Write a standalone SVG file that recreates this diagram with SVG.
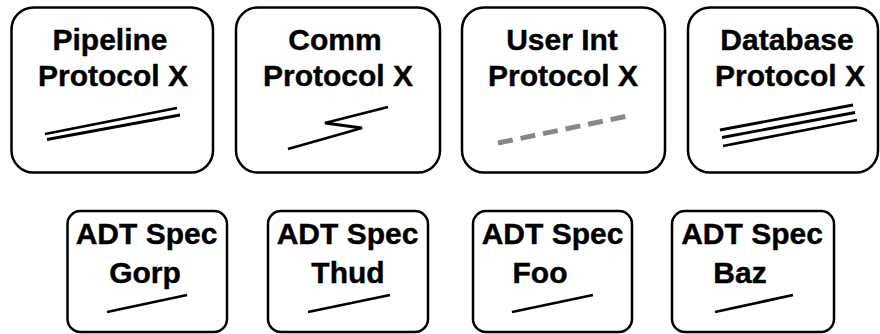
<svg xmlns="http://www.w3.org/2000/svg" width="880" height="334" viewBox="0 0 880 334">
<style>
.box{fill:#fff;stroke:#000;stroke-width:2.5}
.t{font-family:"Liberation Sans",Arial,sans-serif;font-weight:bold;font-size:30px;fill:#000;text-anchor:middle;stroke:#000;stroke-width:0.4}
.ln{stroke:#000;stroke-width:2.8;fill:none;stroke-linecap:butt}
.dash{stroke:#888;stroke-width:5;fill:none;stroke-dasharray:15 8}
</style>
<rect width="880" height="334" fill="#fff"/>
<g id="pipeline">
<rect class="box" x="11.5" y="7.5" width="201.5" height="165" rx="22"/>
<text class="t" x="110" y="50">Pipeline</text>
<text class="t" x="113" y="86">Protocol X</text>
<line class="ln" x1="45" y1="134" x2="177" y2="108"/>
<line class="ln" x1="47" y1="139.5" x2="180" y2="115"/>
</g>
<g id="comm">
<rect class="box" x="236" y="7.5" width="204" height="165" rx="22"/>
<text class="t" x="335" y="50">Comm</text>
<text class="t" x="338" y="86">Protocol X</text>
<polyline class="ln" points="288,149 362,128 325,123 388,107"/>
</g>
<g id="userint">
<rect class="box" x="462" y="7.5" width="203" height="165" rx="22"/>
<text class="t" x="562" y="50">User Int</text>
<text class="t" x="563" y="86">Protocol X</text>
<line class="dash" x1="498" y1="143" x2="628" y2="116"/>
</g>
<g id="database">
<rect class="box" x="688" y="7.5" width="190" height="165" rx="22"/>
<text class="t" x="787" y="50">Database</text>
<text class="t" x="790" y="86">Protocol X</text>
<line class="ln" x1="720" y1="130" x2="853" y2="105"/>
<line class="ln" x1="722" y1="137.5" x2="855" y2="112.5"/>
<line class="ln" x1="723" y1="146" x2="857" y2="120"/>
</g>
<g id="gorp">
<rect class="box" x="67.5" y="211" width="159.5" height="121" rx="13"/>
<text class="t" x="146.5" y="244">ADT Spec</text>
<text class="t" x="145" y="283">Gorp</text>
<line class="ln" x1="107" y1="312" x2="187" y2="295"/>
</g>
<g id="thud">
<rect class="box" x="268" y="211" width="160" height="121" rx="13"/>
<text class="t" x="347.5" y="244">ADT Spec</text>
<text class="t" x="348" y="283">Thud</text>
<line class="ln" x1="308" y1="312" x2="390" y2="295"/>
</g>
<g id="foo">
<rect class="box" x="473" y="211" width="159" height="121" rx="13"/>
<text class="t" x="552.5" y="244">ADT Spec</text>
<text class="t" x="540" y="283">Foo</text>
<line class="ln" x1="512" y1="312" x2="593" y2="295"/>
</g>
<g id="baz">
<rect class="box" x="672" y="211" width="162" height="121" rx="13"/>
<text class="t" x="752" y="244">ADT Spec</text>
<text class="t" x="740" y="283">Baz</text>
<line class="ln" x1="715" y1="312" x2="793" y2="295"/>
</g>
<g id="connectors"></g>
</svg>
